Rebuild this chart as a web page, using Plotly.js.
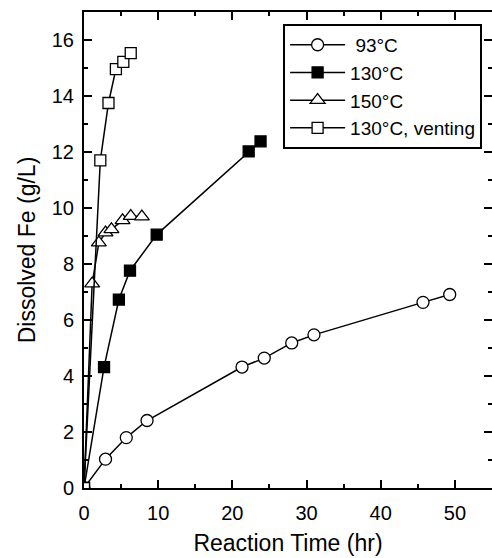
<!DOCTYPE html>
<html>
<head>
<meta charset="utf-8">
<script src="https://cdn.plot.ly/plotly-3.0.1.min.js"></script>
<style>html,body{margin:0;padding:0;background:#fff;}#chart{width:492px;height:558px;}</style>
</head>
<body>
<div id="chart"></div>
<script>
// Series names
const seriesNames = ['\u00a093\u00b0C', '130\u00b0C', '150\u00b0C', '130\u00b0C, venting'];

// 93 °C
const t93 = [0, 2.9, 5.7, 8.5, 21.3, 24.3, 28.0, 31.0, 45.7, 49.3];
const fe93 = [0, 1.03, 1.80, 2.41, 4.32, 4.64, 5.18, 5.47, 6.63, 6.91];

// 130 °C
const t130 = [0, 2.7, 4.7, 6.2, 9.8, 22.2, 23.8];
const fe130 = [0, 4.32, 6.73, 7.76, 9.05, 12.02, 12.38];

// 150 °C
const t150 = [0, 1.1, 2.0, 2.9, 3.7, 5.2, 6.3, 7.8];
const fe150 = [0, 7.3, 8.76, 9.12, 9.24, 9.56, 9.71, 9.69];

// 130 °C, venting
const tVent = [0, 2.2, 3.3, 4.3, 5.3, 6.3];
const feVent = [0, 11.70, 13.75, 14.96, 15.22, 15.53];

// Axis ticks
const xTicks = [0, 10, 20, 30, 40, 50];
const yTicks = [0, 2, 4, 6, 8, 10, 12, 14, 16];

const FONT = 'Liberation Sans, Arial, sans-serif';
const lineStyle = {color: '#000', width: 1.5};

function mk(x, y, name, symbol, fill, size) {
  return {
    x: x, y: y, name: name, type: 'scatter', mode: 'lines+markers',
    line: lineStyle,
    marker: {symbol: symbol, size: size, color: fill, line: {color: '#000', width: 1.3}},
    cliponaxis: true
  };
}

const data = [
  mk(t93, fe93, seriesNames[0], 'circle', '#fff', 12),
  mk(t130, fe130, seriesNames[1], 'square', '#000', 11),
  mk(t150, fe150, seriesNames[2], 'triangle-up', '#fff', 13),
  mk(tVent, feVent, seriesNames[3], 'square', '#fff', 11)
];

const axisCommon = {
  showline: true, linecolor: '#000', linewidth: 2, mirror: 'allticks',
  ticks: 'inside', ticklen: 8, tickwidth: 2, tickcolor: '#000',
  showgrid: false, zeroline: false,
  tickfont: {family: FONT, size: 20, color: '#000'}
};

const layout = {
  width: 492, height: 558,
  margin: {l: 84, r: 0, t: 12, b: 70},
  paper_bgcolor: '#fff', plot_bgcolor: '#fff',
  font: {family: FONT, color: '#000'},
  showlegend: true,
  legend: {
    x: 0.488, y: 0.975, xanchor: 'left', yanchor: 'top',
    bgcolor: '#fff', bordercolor: '#000', borderwidth: 2,
    font: {family: FONT, size: 19, color: '#000'},
    itemwidth: 55,
    tracegroupgap: 0
  },
  xaxis: Object.assign({}, axisCommon, {
    range: [0, 55], tickvals: xTicks, ticktext: xTicks.map(String),
    minor: {dtick: 5, ticks: 'inside', ticklen: 4, tickwidth: 2, tickcolor: '#000'},
    ticklabelstandoff: 6,
    title: {text: 'Reaction Time (hr)', font: {family: FONT, size: 23, color: '#000'}, standoff: 12}
  }),
  yaxis: Object.assign({}, axisCommon, {
    range: [0, 17], tickvals: yTicks, ticktext: yTicks.map(String),
    minor: {dtick: 1, ticks: 'inside', ticklen: 4, tickwidth: 2, tickcolor: '#000'},
    ticklabelstandoff: 4,
    title: {text: 'Dissolved Fe (g/L)', font: {family: FONT, size: 23, color: '#000'}, standoff: 10}
  })
};

Plotly.newPlot('chart', data, layout, {displayModeBar: false, staticPlot: true});
</script>
</body>
</html>
